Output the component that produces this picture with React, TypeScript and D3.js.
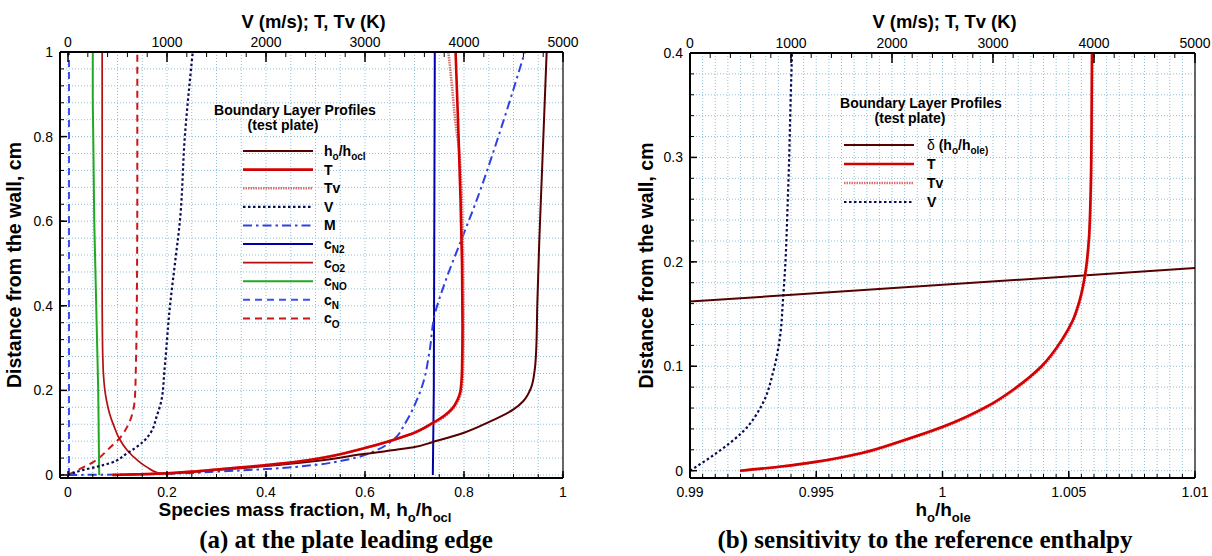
import React from "react";
import * as d3 from "d3";

type Pt = [number, number];

// ---------- Panel (a): x = fraction (bottom axis) or K, m/s (top axis); y = distance, cm
const hRatioA: Pt[] = [[0.09,0],[0.15,0.002],[0.2,0.004],[0.3,0.012],[0.4,0.021],[0.5,0.033],[0.6,0.05],[0.7,0.066],[0.737,0.078],[0.8,0.1],[0.85,0.125],[0.9,0.155],[0.92,0.175],[0.935,0.205],[0.943,0.25],[0.946,0.3],[0.948,0.4],[0.952,0.55],[0.957,0.7],[0.962,0.85],[0.967,1.0]];
const tempA: Pt[] = [[450,0],[900,0.003],[1250,0.008],[1500,0.013],[1750,0.018],[2150,0.027],[2500,0.038],[3000,0.064],[3285,0.083],[3500,0.1],[3685,0.123],[3800,0.14],[3880,0.157],[3935,0.178],[3965,0.2],[3980,0.25],[3985,0.35],[3980,0.5],[3965,0.65],[3945,0.8],[3930,0.9],[3915,1.0]];
const tempVA: Pt[] = [[450,0],[900,0.003],[1250,0.008],[1500,0.013],[1750,0.018],[2150,0.027],[2500,0.038],[3000,0.064],[3285,0.083],[3500,0.1],[3690,0.122],[3810,0.139],[3890,0.157],[3945,0.178],[3975,0.2],[3990,0.25],[3995,0.35],[3990,0.5],[3982,0.62],[3970,0.7],[3945,0.78],[3926,0.81],[3875,0.928],[3842,1.0]];
const velA: Pt[] = [[0,0],[155,0.012],[300,0.02],[425,0.028],[595,0.051],[760,0.079],[835,0.1],[895,0.138],[945,0.178],[975,0.25],[1030,0.4],[1080,0.5],[1130,0.6],[1180,0.8],[1260,1.0]];
const machA: Pt[] = [[0,0],[0.1,0.001],[0.2,0.003],[0.3,0.008],[0.4,0.014],[0.5,0.024],[0.563,0.036],[0.624,0.059],[0.657,0.083],[0.681,0.122],[0.705,0.178],[0.718,0.22],[0.73,0.29],[0.741,0.38],[0.76,0.45],[0.796,0.56],[0.826,0.651],[0.875,0.82],[0.923,1.0]];
const cN2A: Pt[] = [[0.737,0],[0.739,0.2],[0.741,1.0]];
const cO2A: Pt[] = [[0.19,0.003],[0.18,0.006],[0.16,0.018],[0.14,0.035],[0.12,0.058],[0.104,0.085],[0.093,0.115],[0.084,0.145],[0.078,0.175],[0.074,0.205],[0.0715,0.24],[0.0702,0.28],[0.0695,0.33],[0.069,0.4],[0.069,1.0]];
const cNOA: Pt[] = [[0.063,0],[0.062,0.1],[0.061,0.2],[0.059,0.3],[0.057,0.4],[0.055,0.5],[0.053,0.6],[0.052,0.7],[0.051,0.8],[0.05,0.9],[0.05,1.0]];
const cNA: Pt[] = [[0.002,0],[0.002,1.0]];
const cOA: Pt[] = [[0,0],[0.02,0.012],[0.05,0.03],[0.085,0.065],[0.105,0.088],[0.12,0.115],[0.13,0.145],[0.135,0.18],[0.137,0.25],[0.139,0.4],[0.14,0.7],[0.14,1.0]];

// ---------- Panel (b)
const deltaB: Pt[] = [[0.99,0.162],[1.01,0.194]];
const tempB: Pt[] = [[495,0],[900,0.004],[1257,0.0087],[1700,0.017],[2079,0.028],[2502,0.042],[2950,0.062],[3220,0.079],[3480,0.1],[3680,0.125],[3790,0.144],[3860,0.164],[3915,0.19],[3948,0.22],[3965,0.26],[3975,0.32],[3980,0.4]];
const tempVB: Pt[] = [[495,0],[920,0.004],[1280,0.0087],[1725,0.017],[2100,0.028],[2520,0.042],[2965,0.062],[3234,0.079],[3492,0.1],[3690,0.125],[3798,0.144],[3866,0.164],[3920,0.19],[3952,0.22],[3968,0.26],[3978,0.32],[3982,0.4]];
const velB: Pt[] = [[0,0],[264,0.017],[525,0.0375],[723,0.065],[822,0.094],[891,0.128],[921,0.164],[945,0.2],[965,0.25],[982,0.3],[995,0.35],[1010,0.4]];

// ---------- ticks
const topTicks = [0, 1000, 2000, 3000, 4000, 5000];
const bottomTicksA = [0, 0.2, 0.4, 0.6, 0.8, 1];
const bottomLabelsA = ["0", "0.2", "0.4", "0.6", "0.8", "1"];
const leftTicksA = [0, 0.2, 0.4, 0.6, 0.8, 1];
const leftLabelsA = ["0", "0.2", "0.4", "0.6", "0.8", "1"];
const bottomTicksB = [0.99, 0.995, 1, 1.005, 1.01];
const bottomLabelsB = ["0.99", "0.995", "1", "1.005", "1.01"];
const leftTicksB = [0, 0.1, 0.2, 0.3, 0.4];
const leftLabelsB = ["0", "0.1", "0.2", "0.3", "0.4"];

const SANS = "'Liberation Sans', Arial, Helvetica, sans-serif";
const SERIF = "'Liberation Serif', 'Times New Roman', serif";
const GRID = "#8fc1d9";

type Style = { stroke: string; width: number; dash?: string };
const S: Record<string, Style> = {
  h: { stroke: "#560000", width: 2 },
  T: { stroke: "#d20000", width: 2.6 },
  Tv: { stroke: "#d77070", width: 2.6, dash: "1.5,1" },
  V: { stroke: "#0a0a55", width: 2.2, dash: "2.5,2.5" },
  M: { stroke: "#3040e0", width: 2, dash: "9,4,2.5,4" },
  cN2: { stroke: "#0000a8", width: 2 },
  cO2: { stroke: "#b01010", width: 1.7 },
  cNO: { stroke: "#22a822", width: 2 },
  cN: { stroke: "#4050f0", width: 2, dash: "7,5" },
  cO: { stroke: "#cc1515", width: 2, dash: "7,5" },
};

type Lbl = { base: string; sub?: string; rest?: string; sub2?: string; sym?: string };

function Label({ x, y, l, size, anchor }: { x: number; y: number; l: Lbl; size: number; anchor?: string }) {
  const ss = Math.round(size * 0.68);
  return (
    <text x={x} y={y} fontFamily={SANS} fontWeight="bold" fontSize={size} fill="#000" textAnchor={anchor || "start"}>
      {l.sym ? <tspan fontWeight="normal">{l.sym}</tspan> : null}
      <tspan>{l.base}</tspan>
      {l.sub ? <tspan dy={size * 0.3} fontSize={ss}>{l.sub}</tspan> : null}
      {l.rest ? <tspan dy={l.sub ? -size * 0.3 : 0}>{l.rest}</tspan> : null}
      {l.sub2 ? <tspan dy={size * 0.3} fontSize={ss}>{l.sub2}</tspan> : null}
    </text>
  );
}

type Series = { key: string; data: Pt[]; axis: "bottom" | "top" };
type PanelCfg = {
  id: string;
  x0: number; x1: number; y0: number; y1: number;
  xDom: [number, number]; topDom: [number, number]; yDom: [number, number];
  xMinor: number[]; topMinor: number[]; yMinor: number[];
  bottomTicks: number[]; bottomLabels: string[];
  leftTicks: number[]; leftLabels: string[];
  series: Series[];
  legend: { key: string; label: Lbl }[];
  legendX: number; legendY: number; legendStep: number; labelX: number;
  title1: [number, number]; title2: [number, number];
  xTitle: Lbl; xTitleX: number; yTitleX: number; caption: string; captionX: number;
};

function Panel({ c }: { c: PanelCfg }) {
  const xs = d3.scaleLinear().domain(c.xDom).range([c.x0, c.x1]);
  const ts = d3.scaleLinear().domain(c.topDom).range([c.x0, c.x1]);
  const ys = d3.scaleLinear().domain(c.yDom).range([c.y1, c.y0]);
  const line = (sc: d3.ScaleLinear<number, number>) =>
    d3.line<Pt>().x((d) => sc(d[0])).y((d) => ys(d[1])).curve(d3.curveMonotoneY);
  const eps = 0.5;
  const cx = (c.x0 + c.x1) / 2;
  const cy = (c.y0 + c.y1) / 2;
  return (
    <g>
      <defs>
        <clipPath id={"clip" + c.id}>
          <rect x={c.x0} y={c.y0} width={c.x1 - c.x0} height={c.y1 - c.y0} />
        </clipPath>
      </defs>
      {c.xMinor.map((v, i) => {
        const px = xs(v);
        if (px <= c.x0 + eps || px >= c.x1 - eps) return null;
        return <line key={"gx" + i} x1={px} x2={px} y1={c.y0} y2={c.y1} stroke={GRID} strokeWidth={1} strokeDasharray="1,2" />;
      })}
      {c.yMinor.map((v, i) => {
        const py = ys(v);
        if (py <= c.y0 + eps || py >= c.y1 - eps) return null;
        return <line key={"gy" + i} x1={c.x0} x2={c.x1} y1={py} y2={py} stroke={GRID} strokeWidth={1} strokeDasharray="1,2" />;
      })}
      <g clipPath={`url(#clip${c.id})`}>
        {c.series.map((s) => {
          const st = S[s.key];
          const sc = s.axis === "top" ? ts : xs;
          return (
            <path key={s.key + s.data.length} d={line(sc)(s.data) || ""} fill="none" stroke={st.stroke}
              strokeWidth={st.width} strokeDasharray={st.dash} />
          );
        })}
      </g>
      <text x={c.title1[0]} y={c.title1[1]} textAnchor="middle" fontFamily={SANS} fontWeight="bold" fontSize={14}>Boundary Layer Profiles</text>
      <text x={c.title2[0]} y={c.title2[1]} textAnchor="middle" fontFamily={SANS} fontWeight="bold" fontSize={14}>(test plate)</text>
      {c.legend.map((e, i) => {
        const st = S[e.key];
        const y = c.legendY + i * c.legendStep;
        return (
          <g key={"lg" + i}>
            <line x1={c.legendX} x2={c.legendX + 70} y1={y} y2={y} stroke={st.stroke} strokeWidth={st.width} strokeDasharray={st.dash} />
            <Label x={c.labelX} y={y + 5} l={e.label} size={14} />
          </g>
        );
      })}
      <line x1={c.x0} x2={c.x1} y1={c.y0} y2={c.y0} stroke="#000" strokeWidth={2} />
      <line x1={c.x0} x2={c.x1} y1={c.y1} y2={c.y1} stroke="#000" strokeWidth={2} />
      <line x1={c.x0} x2={c.x0} y1={c.y0} y2={c.y1} stroke="#000" strokeWidth={2} />
      <line x1={c.x1} x2={c.x1} y1={c.y0} y2={c.y1} stroke="#000" strokeWidth={1.2} />
      {c.topMinor.map((v, i) => (
        <line key={"tm" + i} x1={ts(v)} x2={ts(v)} y1={c.y0} y2={c.y0 + 5} stroke="#000" strokeWidth={1} />
      ))}
      {topTicks.map((v, i) => (
        <g key={"tt" + i}>
          <line x1={ts(v)} x2={ts(v)} y1={c.y0} y2={c.y0 + 10} stroke="#000" strokeWidth={1.5} />
          <text x={ts(v)} y={c.y0 - 5} textAnchor="middle" fontFamily={SANS} fontSize={14}>{String(v)}</text>
        </g>
      ))}
      {c.xMinor.map((v, i) => (
        <line key={"bm" + i} x1={xs(v)} x2={xs(v)} y1={c.y1} y2={c.y1 - 4} stroke="#000" strokeWidth={1} />
      ))}
      {c.bottomTicks.map((v, i) => (
        <g key={"bt" + i}>
          <line x1={xs(v)} x2={xs(v)} y1={c.y1} y2={c.y1 - 7} stroke="#000" strokeWidth={1.5} />
          <text x={xs(v)} y={c.y1 + 19} textAnchor="middle" fontFamily={SANS} fontSize={14}>{c.bottomLabels[i]}</text>
        </g>
      ))}
      {c.yMinor.map((v, i) => (
        <line key={"lm" + i} x1={c.x0} x2={c.x0 + 4} y1={ys(v)} y2={ys(v)} stroke="#000" strokeWidth={1} />
      ))}
      {c.leftTicks.map((v, i) => (
        <g key={"lt" + i}>
          <line x1={c.x0} x2={c.x0 + 7} y1={ys(v)} y2={ys(v)} stroke="#000" strokeWidth={1.5} />
          <text x={c.x0 - 7} y={ys(v) + 5} textAnchor="end" fontFamily={SANS} fontSize={14}>{c.leftLabels[i]}</text>
        </g>
      ))}
      <text x={cx + 2} y={28} textAnchor="middle" fontFamily={SANS} fontWeight="bold" fontSize={18.4}>V (m/s); T, Tv (K)</text>
      <Label x={c.xTitleX} y={516} l={c.xTitle} size={19} anchor="middle" />
      <text transform={`translate(${c.yTitleX},${cy}) rotate(-90)`} textAnchor="middle" fontFamily={SANS} fontWeight="bold" fontSize={19.5}>Distance from the wall, cm</text>
      <text x={c.captionX} y={548} textAnchor="middle" fontFamily={SERIF} fontWeight="bold" fontSize={25}>{c.caption}</text>
    </g>
  );
}

export default function App() {
  const xMinorA = d3.range(0, 1.0001, 0.05);
  const topMinor = d3.range(0, 5000.1, 200);
  const yMinorA = d3.range(0, 1.0001, 0.04);
  const xMinorB = d3.range(0, 40.5, 1).map((k) => 0.99 + k * 0.0005);
  const yMinorB = d3.range(0, 20.5, 1).map((k) => k * 0.02);

  const cfgA: PanelCfg = {
    id: "a", x0: 60, x1: 563, y0: 52, y1: 478,
    xDom: [-0.0162, 1], topDom: [-0.0162 * 5000, 5000], yDom: [-0.0071, 1],
    xMinor: xMinorA, topMinor, yMinor: yMinorA,
    bottomTicks: bottomTicksA, bottomLabels: bottomLabelsA,
    leftTicks: leftTicksA, leftLabels: leftLabelsA,
    series: [
      { key: "cN", data: cNA, axis: "bottom" },
      { key: "cO", data: cOA, axis: "bottom" },
      { key: "cNO", data: cNOA, axis: "bottom" },
      { key: "cO2", data: cO2A, axis: "bottom" },
      { key: "cN2", data: cN2A, axis: "bottom" },
      { key: "M", data: machA, axis: "bottom" },
      { key: "V", data: velA, axis: "top" },
      { key: "h", data: hRatioA, axis: "bottom" },
      { key: "Tv", data: tempVA, axis: "top" },
      { key: "T", data: tempA, axis: "top" },
    ],
    legend: [
      { key: "h", label: { base: "h", sub: "o", rest: "/h", sub2: "ocl" } },
      { key: "T", label: { base: "T" } },
      { key: "Tv", label: { base: "Tv" } },
      { key: "V", label: { base: "V" } },
      { key: "M", label: { base: "M" } },
      { key: "cN2", label: { base: "c", sub: "N2" } },
      { key: "cO2", label: { base: "c", sub: "O2" } },
      { key: "cNO", label: { base: "c", sub: "NO" } },
      { key: "cN", label: { base: "c", sub: "N" } },
      { key: "cO", label: { base: "c", sub: "O" } },
    ],
    legendX: 243, legendY: 151, legendStep: 18.6, labelX: 324,
    title1: [295, 115], title2: [283, 130],
    xTitle: { base: "Species mass fraction, M, h", sub: "o", rest: "/h", sub2: "ocl" },
    xTitleX: 305, yTitleX: 21, caption: "(a) at the plate leading edge", captionX: 346,
  };

  const cfgB: PanelCfg = {
    id: "b", x0: 690, x1: 1195, y0: 53, y1: 478,
    xDom: [0.99, 1.01], topDom: [0, 5000], yDom: [-0.007, 0.4],
    xMinor: xMinorB, topMinor, yMinor: yMinorB,
    bottomTicks: bottomTicksB, bottomLabels: bottomLabelsB,
    leftTicks: leftTicksB, leftLabels: leftLabelsB,
    series: [
      { key: "h", data: deltaB, axis: "bottom" },
      { key: "V", data: velB, axis: "top" },
      { key: "Tv", data: tempVB, axis: "top" },
      { key: "T", data: tempB, axis: "top" },
    ],
    legend: [
      { key: "h", label: { sym: "δ", base: " (h", sub: "o", rest: "/h", sub2: "ole)" } },
      { key: "T", label: { base: "T" } },
      { key: "Tv", label: { base: "Tv" } },
      { key: "V", label: { base: "V" } },
    ],
    legendX: 844, legendY: 145, legendStep: 19, labelX: 927,
    title1: [921, 108], title2: [910, 123],
    xTitle: { base: "h", sub: "o", rest: "/h", sub2: "ole" },
    xTitleX: 943, yTitleX: 653, caption: "(b) sensitivity to the reference enthalpy", captionX: 925,
  };

  return (
    <svg width={1212} height={556} style={{ position: "absolute", left: 0, top: 0, background: "#fff" }}
      xmlns="http://www.w3.org/2000/svg">
      <rect x={0} y={0} width={1212} height={556} fill="#fff" />
      <Panel c={cfgA} />
      <Panel c={cfgB} />
    </svg>
  );
}
